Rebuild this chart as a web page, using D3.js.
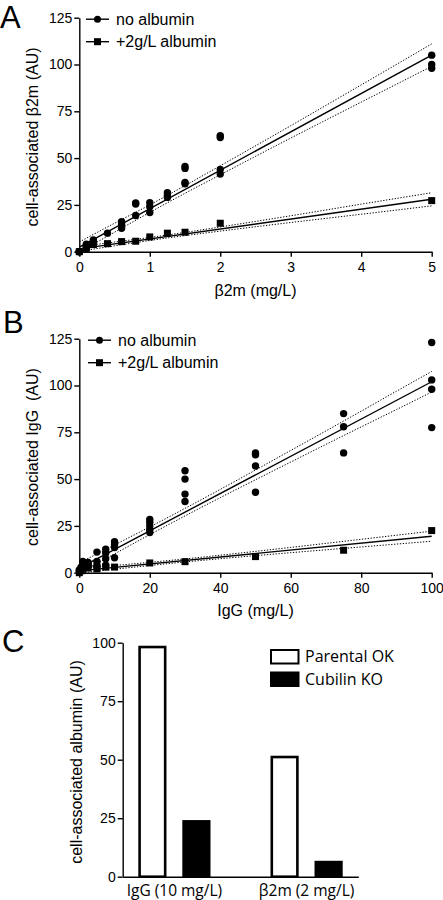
<!DOCTYPE html>
<html>
<head>
<meta charset="utf-8">
<script src="https://cdn.jsdelivr.net/npm/d3@7"></script>
<style>
  html, body { margin: 0; padding: 0; background: #fff; }
  svg { display: block; }
  text { fill: #000; }
</style>
</head>
<body>
<svg id="chart" width="443" height="900"></svg>
<script>
// ---------------- DATA ----------------
// Panel A: beta2m uptake
const aConc = [0, 0.1, 0.2, 0.4, 0.6, 0.8, 1, 1.25, 1.5, 2, 5];
const aNoAlbumin = [[0, 0, 0], [4, 1.8, 3], [6.3, 5.4], [9.9], [16, 14.7, 12.5], [26, 25.5, 19.3], [26.2, 24, 20.9], [31.5, 30, 29], [45.5, 44.5, 37, 36.3], [62, 61, 44, 41.5], [105, 100, 98]];
const aAlbumin = [0, 1.8, 3.8, 4.3, 5.4, 5.6, 7.9, 9.9, 10.4, 15.2, 27.3];
const aFitX = [0, 5];
const aFitNoAlbumin = [2.5, 105];
const aFitAlbumin = [1.5, 28];
const aBandX = [0, 0.5, 1, 1.5, 2, 3, 4, 5];
const aNoAlbUpper = [5.2, 15.2, 25.0, 35.3, 45.9, 67.3, 89.1, 111.0];
const aNoAlbLower = [-0.2, 10.4, 21.0, 31.2, 41.1, 60.7, 79.9, 99.0];
const aAlbUpper = [2.8, 5.15, 7.6, 10.3, 13.2, 19.2, 25.4, 31.5];
const aAlbLower = [0.2, 3.15, 6.0, 8.6, 11.0, 15.6, 20.0, 24.5];
const aXTicks = [0, 1, 2, 3, 4, 5];

// Panel B: IgG uptake
const bConc = [0, 0.5, 1, 2.5, 5, 7.5, 10, 20, 30, 50, 75, 100];
const bNoAlbumin = [[0.5, 1.5], [3, 2], [6, 4.5, 3], [5.5, 4.5, 3.5], [11, 6, 4, 3], [12.5, 10.5, 7.5, 4], [16.5, 15, 13.5, 8], [28.5, 27, 25, 23, 21.5], [54.5, 50, 42, 38], [64, 63, 57, 43], [85, 78, 64], [123, 103, 98, 77.5]];
const bAlbumin = [0, 1, 2, 2.5, 2, 3, 3, 5.2, 5.9, 8.6, 12, 22.5];
const bFitX = [0, 100];
const bFitNoAlbumin = [2.5, 102];
const bFitAlbumin = [1, 19.5];
const bBandX = [0, 10, 20, 30, 40, 50, 60, 70, 80, 90, 100];
const bNoAlbUpper = [5.25, 14.85, 24.46, 34.36, 44.5, 54.85, 65.3, 75.75, 86.3, 96.95, 107.5];
const bNoAlbLower = [-0.25, 10.05, 20.34, 30.34, 40.1, 49.65, 59.1, 68.55, 77.9, 87.15, 96.5];
const bAlbUpper = [2.25, 3.85, 5.54, 7.36, 9.32, 11.39, 13.51, 15.67, 17.84, 20.02, 22.2];
const bAlbLower = [-0.25, 1.85, 3.86, 5.74, 7.48, 9.11, 10.69, 12.23, 13.76, 15.28, 16.8];
const bXTicks = [0, 20, 40, 60, 80, 100];

const yTicksAB = [0, 25, 50, 75, 100, 125];
const seriesLabels = ["no albumin", "+2g/L albumin"];

// Panel C: albumin uptake
const cGroups = ["IgG (10 mg/L)", "β2m (2 mg/L)"];
const cSeries = ["Parental OK", "Cubilin KO"];
const cParental = [98.7, 51.7];
const cCubilin = [24.2, 6.8];
const cYTicks = [0, 25, 50, 75, 100];

// ---------------- DRAWING ----------------
const svg = d3.select("#chart");
const SANS = "'Liberation Sans', Arial, Helvetica, sans-serif";
const HUM = "'Open Sans', 'Liberation Sans', sans-serif";
const fmt = d3.format("~g");

function panelLetter(t, x, y) {
  svg.append("text").attr("x", x).attr("y", y).text(t)
    .attr("font-family", SANS).attr("font-size", 31).attr("font-weight", 400);
}

function styleAxis(g) {
  g.selectAll("path.domain").attr("stroke", "#000").attr("stroke-width", 1.4);
  g.selectAll(".tick line").attr("stroke", "#000").attr("stroke-width", 1.4);
  g.selectAll(".tick text").attr("font-family", SANS).attr("font-size", 14).attr("fill", "#000");
}

function scatterPanel(opt) {
  const x = d3.scaleLinear().domain(opt.xDomain).range([79.3, 431.7]);
  const y = d3.scaleLinear().domain([0, 125]).range([opt.y0, opt.y0 - 234]);
  const g = svg.append("g");

  const clipId = "clip" + opt.id;
  svg.append("defs").append("clipPath").attr("id", clipId)
    .append("rect").attr("x", x.range()[0]).attr("y", y(125))
    .attr("width", x.range()[1] - x.range()[0] + 2).attr("height", y(0) - y(125));

  // axes
  const yAxis = g.append("g").attr("transform", `translate(${x.range()[0]},0)`)
    .call(d3.axisLeft(y).tickValues(yTicksAB).tickFormat(fmt).tickSize(5).tickPadding(2).tickSizeOuter(0));
  styleAxis(yAxis);
  const xAxis = g.append("g").attr("transform", `translate(0,${y(0)})`)
    .call(d3.axisBottom(x).tickValues(opt.xTicks).tickFormat(fmt).tickSize(5).tickPadding(5).tickSizeOuter(0));
  styleAxis(xAxis);

  // confidence bands & fit lines
  const lg = g.append("g").attr("clip-path", `url(#${clipId})`);
  const band = d3.line().x(d => x(d[0])).y(d => y(d[1])).curve(d3.curveMonotoneX);
  [opt.upper1, opt.lower1, opt.upper2, opt.lower2].forEach(arr => {
    lg.append("path").datum(opt.bandX.map((bx, i) => [bx, arr[i]]))
      .attr("d", band).attr("fill", "none").attr("stroke", "#000")
      .attr("stroke-width", 1).attr("stroke-dasharray", "1.3,1.6");
  });
  [opt.fit1, opt.fit2].forEach(arr => {
    lg.append("path").datum(opt.fitX.map((fx, i) => [fx, arr[i]]))
      .attr("d", band).attr("fill", "none").attr("stroke", "#000").attr("stroke-width", 1.4);
  });

  // points
  const pts = [];
  opt.conc.forEach((c, i) => opt.s1[i].forEach(v => pts.push([c, v])));
  g.append("g").selectAll("circle").data(pts).join("circle")
    .attr("cx", d => x(d[0])).attr("cy", d => y(d[1])).attr("r", 3.7).attr("fill", "#000");
  g.append("g").selectAll("rect").data(opt.conc.map((c, i) => [c, opt.s2[i]])).join("rect")
    .attr("x", d => x(d[0]) - 3.5).attr("y", d => y(d[1]) - 3.5)
    .attr("width", 7).attr("height", 7).attr("fill", "#000");

  // legend
  const lx = opt.legendX;
  seriesLabels.forEach((lab, i) => {
    const ly = y(125) + 1.5 + i * 22.5;
    g.append("line").attr("x1", lx).attr("x2", lx + 23).attr("y1", ly).attr("y2", ly)
      .attr("stroke", "#000").attr("stroke-width", 1.4);
    if (i === 0) g.append("circle").attr("cx", lx + 11.5).attr("cy", ly).attr("r", 3.5).attr("fill", "#000");
    else g.append("rect").attr("x", lx + 8).attr("y", ly - 3.5).attr("width", 7).attr("height", 7).attr("fill", "#000");
    g.append("text").attr("x", lx + 30).attr("y", ly).attr("dy", "0.35em").text(lab)
      .attr("font-family", SANS).attr("font-size", 16);
  });

  // titles
  g.append("text").attr("x", 255.5).attr("y", opt.xTitleY).attr("text-anchor", "middle")
    .text(opt.xTitle).attr("font-family", SANS).attr("font-size", 16);
  g.append("text").attr("transform", `translate(37.5,${opt.yTitleC}) rotate(-90)`)
    .attr("text-anchor", "middle").style("white-space", "pre")
    .text(opt.yTitle).attr("font-family", SANS).attr("font-size", 16);
}

panelLetter("A", 0, 28);
scatterPanel({
  id: "A", xDomain: [0, 5], y0: 251.7, xTicks: aXTicks,
  conc: aConc, s1: aNoAlbumin, s2: aAlbumin,
  fitX: aFitX, fit1: aFitNoAlbumin, fit2: aFitAlbumin,
  bandX: aBandX, upper1: aNoAlbUpper, lower1: aNoAlbLower, upper2: aAlbUpper, lower2: aAlbLower,
  legendX: 86, xTitle: "β2m (mg/L)", xTitleY: 296, yTitle: "cell-associated β2m (AU)", yTitleC: 137
});

panelLetter("B", 3, 333.3);
scatterPanel({
  id: "B", xDomain: [0, 100], y0: 572.7, xTicks: bXTicks,
  conc: bConc, s1: bNoAlbumin, s2: bAlbumin,
  fitX: bFitX, fit1: bFitNoAlbumin, fit2: bFitAlbumin,
  bandX: bBandX, upper1: bNoAlbUpper, lower1: bNoAlbLower, upper2: bAlbUpper, lower2: bAlbLower,
  legendX: 88, xTitle: "IgG (mg/L)", xTitleY: 616, yTitle: "cell-associated IgG  (AU)", yTitleC: 457
});

// ---------------- Panel C ----------------
panelLetter("C", 2, 651.7);
(function () {
  const g = svg.append("g");
  const yC = d3.scaleLinear().domain([0, 100]).range([876.7, 642.7]);
  const xG = d3.scaleBand().domain(cGroups).range([122.7, 358.3]).paddingInner(0.334).paddingOuter(0.058);
  const xS = d3.scaleBand().domain(cSeries).range([0, xG.bandwidth()]).paddingInner(0.36).paddingOuter(0.18);

  const yAxis = g.append("g").attr("transform", "translate(122.7,0)")
    .call(d3.axisLeft(yC).tickValues(cYTicks).tickFormat(fmt).tickSize(5).tickPadding(2).tickSizeOuter(0));
  styleAxis(yAxis);

  const sw = 2.6;
  const rows = [];
  cGroups.forEach((gr, i) => {
    rows.push({ g: gr, s: cSeries[0], v: cParental[i] });
    rows.push({ g: gr, s: cSeries[1], v: cCubilin[i] });
  });
  g.append("g").selectAll("rect").data(rows).join("rect")
    .attr("x", d => xG(d.g) + xS(d.s) + sw / 2)
    .attr("y", d => yC(d.v) + sw / 2)
    .attr("width", xS.bandwidth() - sw)
    .attr("height", d => yC(0) - yC(d.v) - sw / 2)
    .attr("fill", d => d.s === cSeries[0] ? "#fff" : "#000")
    .attr("stroke", "#000").attr("stroke-width", sw);

  const xAxis = g.append("g").attr("transform", `translate(0,${yC(0)})`)
    .call(d3.axisBottom(xG).tickSize(0).tickPadding(8).tickSizeOuter(0));
  xAxis.selectAll("path.domain").attr("stroke", "#000").attr("stroke-width", 1.4);
  xAxis.selectAll(".tick text").attr("font-family", HUM).attr("font-size", 15.5).attr("fill", "#000");

  // legend
  cSeries.forEach((s, i) => {
    const ly = 650 + i * 22.5;
    g.append("rect").attr("x", 271).attr("y", ly).attr("width", 27.5).attr("height", 13.5)
      .attr("fill", i === 0 ? "#fff" : "#000").attr("stroke", "#000").attr("stroke-width", 2);
    g.append("text").attr("x", 305).attr("y", ly + 6.8).attr("dy", "0.35em").text(s)
      .attr("font-family", HUM).attr("font-size", 16);
  });

  g.append("text").attr("transform", "translate(81.7,762) rotate(-90)")
    .attr("text-anchor", "middle").text("cell-associated albumin (AU)")
    .attr("font-family", SANS).attr("font-size", 16);
})();
</script>
</body>
</html>
